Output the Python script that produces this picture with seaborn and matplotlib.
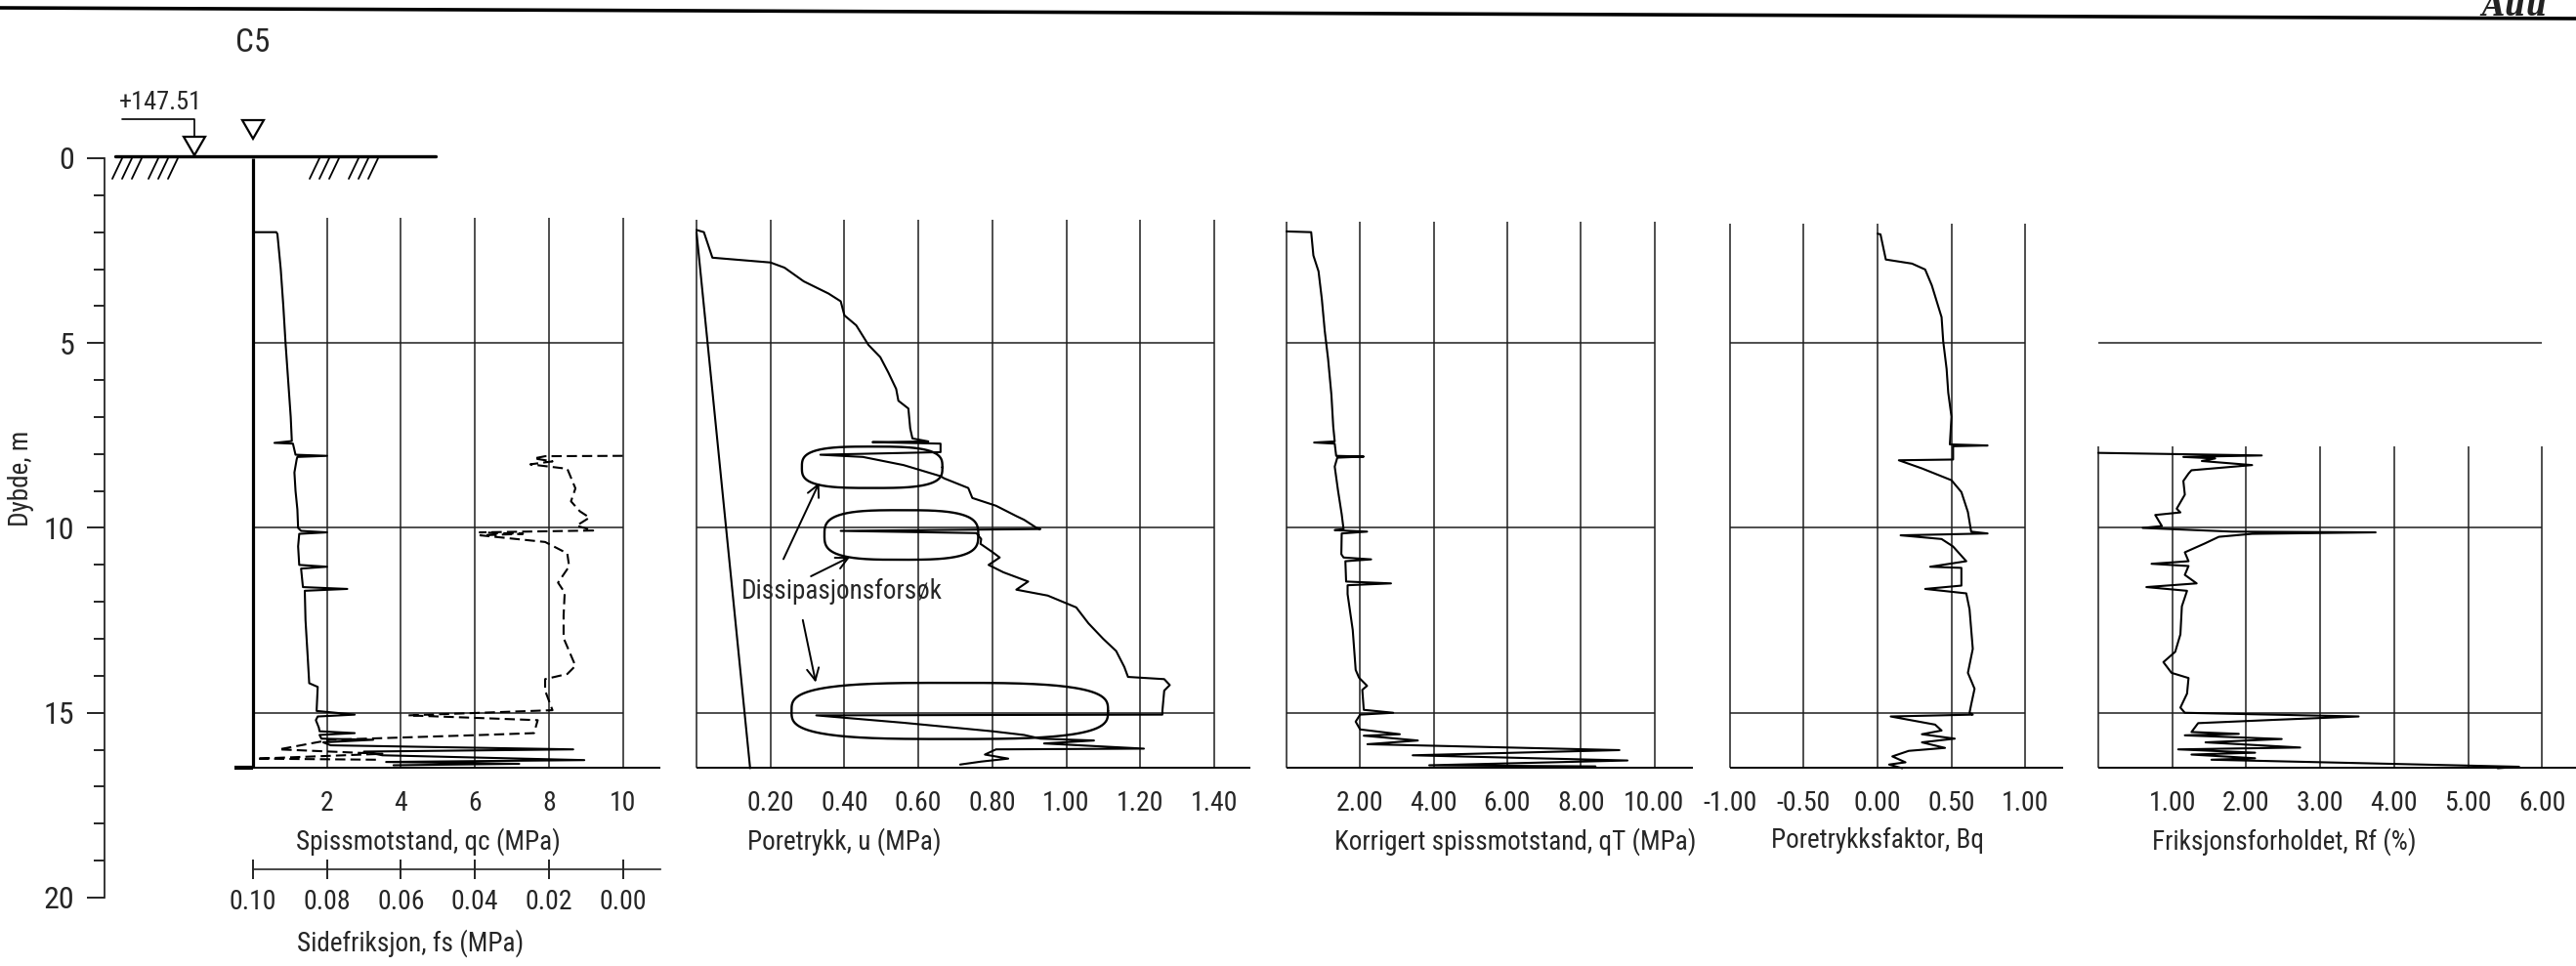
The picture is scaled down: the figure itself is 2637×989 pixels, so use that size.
import numpy as np
import matplotlib
matplotlib.use("Agg")
import matplotlib.pyplot as plt
import seaborn as sns
from matplotlib.patches import Polygon

sns.set_style("white")
plt.rcParams['font.family'] = ['Liberation Sans Narrow', 'Roboto Condensed', 'Open Sans Condensed', 'DejaVu Sans']
plt.rcParams['font.stretch'] = 'condensed'

# ---- data (depth in m) ----
qc_depth = [2.0, 2.0, 2.05, 3.0, 4.0, 5.0, 6.0, 7.0, 7.65, 7.7, 7.72, 8.02, 8.05, 8.08, 8.15, 8.5, 9.0,
            9.5, 10.0, 10.08, 10.12, 10.16, 10.5, 11.0, 11.05, 11.1, 11.6, 11.65, 11.7, 12.5, 13.5, 14.2,
            14.3, 14.95, 15.05, 15.1, 15.2, 15.4, 15.5, 15.55, 15.6, 15.7, 15.73, 15.8, 15.88, 15.99,
            16.05, 16.15, 16.28, 16.33, 16.38, 16.42]
qc_val = [0.0, 0.63, 0.66, 0.75, 0.82, 0.88, 0.95, 1.02, 1.05, 0.58, 1.08, 1.15, 2.0, 1.2, 1.18, 1.12, 1.15,
          1.2, 1.22, 1.3, 2.0, 1.25, 1.22, 1.25, 2.0, 1.3, 1.35, 2.55, 1.4, 1.42, 1.48, 1.52,
          1.75, 1.72, 2.75, 1.75, 1.7, 1.78, 1.8, 2.75, 1.8, 1.85, 3.25, 1.9, 2.1, 8.66,
          3.0, 3.5, 8.96, 3.6, 7.2, 3.8]

fs_depth = [8.05, 8.06, 8.12, 8.2, 8.28, 8.4, 8.93, 9.28, 9.55, 9.72, 9.94, 10.07, 10.12, 10.16, 10.2,
            10.38, 10.69, 11.04, 11.48, 11.75, 12.37, 12.98, 13.73, 13.95, 14.09, 14.4, 14.93, 15.07,
            15.2, 15.55, 15.6, 15.73, 15.99, 16.11, 16.24, 16.27]
fs_val = [0.0, 0.021, 0.024, 0.019, 0.025, 0.015, 0.0128, 0.014, 0.0116, 0.009, 0.0125, 0.008, 0.0387,
          0.027, 0.0385, 0.021, 0.015, 0.0145, 0.0175, 0.0157, 0.016, 0.016, 0.0128, 0.015, 0.021, 0.021,
          0.019, 0.058, 0.023, 0.024, 0.038, 0.079, 0.093, 0.065, 0.099, 0.066]

u_depth = [1.94, 2.0, 2.69, 2.82, 2.96, 3.33, 3.66, 3.87, 4.25, 4.52, 5.05, 5.38, 5.8, 6.24, 6.56, 6.77,
           7.31, 7.58, 7.66, 7.68, 7.72, 7.95, 8.02, 8.08, 8.3, 8.6, 8.66, 8.92, 9.19, 9.4, 9.68, 9.78,
           10.0, 10.03, 10.08, 10.14, 10.3, 10.43, 10.65, 10.8, 11.0, 11.2, 11.45, 11.67, 11.83, 12.15,
           12.58, 13.0, 13.33, 13.76, 14.03, 14.09, 14.25, 14.4, 14.95, 15.05, 15.07, 15.27, 15.5, 15.6,
           15.7, 15.75, 15.83, 15.97, 15.99, 16.13, 16.24, 16.32, 16.4]
u_val = [0.0, 0.02, 0.043, 0.2, 0.238, 0.29, 0.357, 0.39, 0.4, 0.432, 0.465, 0.497, 0.519, 0.54, 0.546, 0.573,
         0.578, 0.584, 0.627, 0.476, 0.66, 0.66, 0.335, 0.45, 0.56, 0.66, 0.67, 0.735, 0.746, 0.81, 0.865, 0.886,
         0.92, 0.93, 0.39, 0.757, 0.77, 0.768, 0.8, 0.82, 0.79, 0.83, 0.897, 0.865, 0.95, 1.027,
         1.06, 1.1, 1.135, 1.157, 1.167, 1.265, 1.28, 1.265, 1.26, 1.26, 0.324, 0.56, 0.8, 0.886,
         0.93, 1.075, 0.94, 1.21, 0.81, 0.78, 0.843, 0.77, 0.713]
u0_depth = [2.0, 16.5]
u0_val = [0.0, 0.145]

qt_depth = [1.98, 2.0, 2.63, 3.06, 3.81, 4.68, 5.43, 6.4, 7.26, 7.66, 7.69, 7.72, 8.05, 8.07, 8.1, 8.34, 8.99,
            9.63, 10.03, 10.06, 10.1, 10.15, 10.71, 10.8, 10.85, 10.9, 11.45, 11.5, 11.55, 11.79, 12.76, 13.84,
            14.05, 14.27, 14.38, 14.92, 15.0, 15.05, 15.24, 15.45, 15.58, 15.62, 15.75, 15.85, 16.01, 16.15,
            16.29, 16.42, 16.45]
qt_val = [0.0, 0.67, 0.73, 0.87, 0.96, 1.04, 1.13, 1.22, 1.27, 1.31, 0.75, 1.31, 1.35, 2.1, 1.38, 1.31, 1.4,
          1.5, 1.55, 1.31, 2.19, 1.5, 1.49, 1.55, 2.3, 1.6, 1.62, 2.84, 1.66, 1.66, 1.8, 1.88,
          1.97, 2.19, 2.06, 2.1, 2.9, 2.0, 1.88, 2.0, 3.08, 2.1, 3.57, 2.2, 9.05, 3.43,
          9.27, 3.88, 8.4]

bq_depth = [2.04, 2.06, 2.74, 2.85, 3.01, 3.44, 3.87, 4.3, 4.95, 5.7, 6.34, 6.99, 7.74, 7.77, 7.79, 8.15, 8.17,
            8.39, 8.71, 9.03, 9.57, 10.1, 10.15, 10.2, 10.3, 10.5, 10.9, 11.05, 11.08, 11.56, 11.65, 11.77,
            12.2, 13.27, 13.92, 14.35, 14.78, 15.0, 15.05, 15.1, 15.32, 15.48, 15.58, 15.7, 15.8, 15.95,
            16.03, 16.18, 16.34, 16.4, 16.5]
bq_val = [0.0, 0.02, 0.056, 0.233, 0.322, 0.367, 0.4, 0.433, 0.444, 0.467, 0.478, 0.5, 0.489, 0.744, 0.511,
          0.511, 0.144, 0.3, 0.5, 0.567, 0.611, 0.633, 0.744, 0.156, 0.433, 0.51, 0.6, 0.356, 0.567, 0.567,
          0.322, 0.6, 0.622, 0.644, 0.611, 0.656, 0.633, 0.622, 0.644, 0.089, 0.389, 0.433, 0.3, 0.522,
          0.3, 0.456, 0.211, 0.1, 0.189, 0.078, 0.167]

rf_depth = [7.97, 8.04, 8.08, 8.12, 8.19, 8.3, 8.44, 8.53, 8.73, 9.1, 9.48, 9.58, 9.65, 9.95, 10.0, 10.1,
            10.12, 10.16, 10.24, 10.42, 10.66, 10.9, 10.97, 11.03, 11.27, 11.5, 11.6, 11.7, 12.12, 12.88,
            13.35, 13.63, 13.92, 14.06, 14.48, 14.86, 15.0, 15.1, 15.19, 15.28, 15.52, 15.57, 15.61, 15.71,
            15.8, 15.94, 15.99, 16.08, 16.13, 16.23, 16.27, 16.46, 16.5]
rf_val = [0.0, 2.21, 1.15, 1.58, 1.4, 2.08, 1.26, 1.22, 1.15, 1.17, 1.06, 1.11, 0.77, 0.86, 0.6, 1.81,
          3.75, 2.08, 1.63, 1.44, 1.17, 1.22, 0.72, 1.22, 1.17, 1.33, 0.65, 1.2, 1.13, 1.11,
          1.04, 0.88, 0.99, 1.22, 1.2, 1.11, 1.17, 3.52, 2.39, 1.35, 1.26, 1.9, 1.17, 2.48,
          1.45, 2.73, 1.08, 2.12, 1.26, 2.12, 1.53, 5.69, 5.4]

qc_ticks = [2, 4, 6, 8, 10]
qc_labels = ["2", "4", "6", "8", "10"]
fs_ticks = [0.10, 0.08, 0.06, 0.04, 0.02, 0.00]
fs_labels = ["0.10", "0.08", "0.06", "0.04", "0.02", "0.00"]
u_ticks = [0.2, 0.4, 0.6, 0.8, 1.0, 1.2, 1.4]
u_labels = ["0.20", "0.40", "0.60", "0.80", "1.00", "1.20", "1.40"]
qt_ticks = [2, 4, 6, 8, 10]
qt_labels = ["2.00", "4.00", "6.00", "8.00", "10.00"]
bq_ticks = [-1.0, -0.5, 0.0, 0.5, 1.0]
bq_labels = ["-1.00", "-0.50", "0.00", "0.50", "1.00"]
rf_ticks = [1, 2, 3, 4, 5, 6]
rf_labels = ["1.00", "2.00", "3.00", "4.00", "5.00", "6.00"]
depth_ticks = [0, 5, 10, 15, 20]

# dissipation test boxes on the pore pressure panel: (u centre, depth centre, half width, half height)
diss_boxes = [(0.475, 8.36, 0.19, 0.56), (0.554, 10.19, 0.208, 0.67), (0.685, 14.95, 0.428, 0.76)]
diss_arrows = [((0.232, 10.91), (0.335, 8.71)), ((0.303, 11.34), (0.422, 10.75)),
               ((0.286, 12.42), (0.324, 14.25))]

# ---- layout (pixels) ----
W, H, DPI = 2637, 989, 100
Y0, PPM = 162, 37.85            # pixel row of depth 0 and pixels per metre
YLIM = ((H - Y0) / PPM, -Y0 / PPM)
BOT = 16.48
FS = 20
FL = 19.5
LW = 1.5
GRID = dict(color="#1e1e1e", lw=1.1)

fig = plt.figure(figsize=(W / DPI, H / DPI), dpi=DPI)
fig.patch.set_facecolor("white")

base = fig.add_axes([0, 0, 1, 1])
base.set_xlim(0, W)
base.set_ylim(H, 0)
base.axis("off")


def panel(x_zero, ppu, xmin, xmax):
    left = x_zero + xmin * ppu
    right = x_zero + xmax * ppu
    ax = fig.add_axes([left / W, 0, (right - left) / W, 1])
    ax.set_xlim(xmin, xmax)
    ax.set_ylim(YLIM)
    ax.patch.set_alpha(0)
    for s in ax.spines.values():
        s.set_visible(False)
    ax.set_yticks([])
    ax._px = (left, right)
    return ax


def style(ax, ticks, labels, xlabel, label_px, label_y=847):
    ax.spines["bottom"].set_position(("data", BOT))
    ax.set_xticks(ticks)
    ax.set_xticklabels(labels, fontsize=FS)
    ax.tick_params(axis="x", length=0, pad=17)
    ax.set_xlabel(xlabel, fontsize=FL)
    left, right = ax._px
    ax.xaxis.set_label_coords((label_px - left) / (right - left), 1 - label_y / H)


def frame(ax, verts, top, hmin, hmax, bmin, bmax):
    ax.vlines(verts, top, BOT, **GRID)
    ax.hlines([5, 10, 15], hmin, hmax, **GRID)
    ax.hlines(BOT, bmin, bmax, color="black", lw=1.4)


def prof(ax, x, y, **kw):
    sns.lineplot(x=x, y=y, sort=False, estimator=None, ax=ax, color="black", lw=LW, **kw)
    ax.set_xlabel("")
    ax.set_ylabel("")


# top border and corner text
base.plot([0, W], [8, 19], color="black", lw=2.6)
base.text(2540, 16, "Auu", fontsize=24, family="DejaVu Serif", style="italic", weight="bold",
          ha="left", va="baseline", color="#222")
base.text(259, 44, "C5", fontsize=24, ha="center", va="center")

# ground surface, hatching, water level marks
base.plot([118, 446], [160, 160], color="black", lw=2.4)
for x in [115, 125, 135, 152, 162, 172, 317, 327, 337, 357, 367, 377]:
    base.plot([x, x + 10], [183, 162], color="black", lw=1.3)
for cx, top in [(259, 123), (199, 140)]:
    base.add_patch(Polygon([(cx - 11, top), (cx + 11, top), (cx, top + 19)], closed=True,
                           fill=False, lw=1.6, ec="black"))
base.plot([125, 199, 199], [122, 122, 140], color="black", lw=1.2)
base.text(164, 105, "+147.51", fontsize=19, ha="center", va="center")

# depth axis
axd = fig.add_axes([107 / W, 0, 0.01, 1])
axd.set_ylim(YLIM)
axd.patch.set_alpha(0)
for k in ["top", "right", "bottom"]:
    axd.spines[k].set_visible(False)
axd.spines["left"].set_bounds(0, 20)
axd.spines["left"].set_linewidth(1.3)
axd.set_xticks([])
axd.set_yticks(depth_ticks)
axd.set_yticklabels([str(t) for t in depth_ticks], fontsize=23)
axd.set_yticks(range(1, 20), minor=True)
axd.tick_params(axis="y", which="both", left=True, direction="out", color="black")
axd.tick_params(axis="y", which="major", length=13, width=1.2, pad=9)
axd.tick_params(axis="y", which="minor", length=8, width=1.2)
axd.set_ylabel("Dybde, m", fontsize=FL)
axd.yaxis.set_label_coords(-72 / (0.01 * W), 1 - 490 / H)

# panel 1: qc and fs
ax1 = panel(259, 37.85, -0.6, 11.02)
frame(ax1, qc_ticks, 1.6, 0, 10, 0, 11.02)
ax1.vlines(0, 0, BOT, color="black", lw=2.3)
ax1.hlines(BOT, -0.5, 0, color="black", lw=3)
prof(ax1, qc_val, qc_depth)
style(ax1, qc_ticks, qc_labels, "Spissmotstand, qc (MPa)", 438)

axf = ax1.twiny()
axf.set_xlim(0.106, -0.0102)
axf.set_ylim(YLIM)
for s in axf.spines.values():
    s.set_visible(False)
axf.xaxis.set_ticks_position("bottom")
axf.xaxis.set_label_position("bottom")
axf.spines["bottom"].set_visible(True)
axf.spines["bottom"].set_position(("data", (890 - Y0) / PPM))
axf.spines["bottom"].set_bounds(-0.0102, 0.10)
axf.spines["bottom"].set_linewidth(1.2)
sns.lineplot(x=fs_val, y=fs_depth, sort=False, estimator=None, ax=axf, color="black",
             lw=LW, linestyle=(0, (5, 2.5)))
axf.set_ylabel("")
axf.set_xticks(fs_ticks)
axf.set_xticklabels(fs_labels, fontsize=FS)
axf.tick_params(axis="x", bottom=True, direction="inout", length=15, width=1.2, pad=7, color="black")
axf.set_xlabel("Sidefriksjon, fs (MPa)", fontsize=FL)
l1, r1 = ax1._px
axf.xaxis.set_label_coords((420 - l1) / (r1 - l1), 1 - 951 / H)

# panel 2: pore pressure
ax2 = panel(713, 378.5, -0.02, 1.498)
frame(ax2, [0] + u_ticks, 1.66, 0, 1.4, 0, 1.498)
prof(ax2, u0_val, u0_depth)
prof(ax2, u_val, u_depth)
style(ax2, u_ticks, u_labels, "Poretrykk, u (MPa)", 864)
t = np.linspace(0, 2 * np.pi, 200)
for cx, cy, a, b in diss_boxes:
    c, s = np.cos(t), np.sin(t)
    px = cx + a * np.sign(c) * np.abs(c) ** (2 / 3.2)
    py = cy + b * np.sign(s) * np.abs(s) ** (2 / 3.2)
    ax2.plot(px, py, color="black", lw=1.7)
for tail, head in diss_arrows:
    ax2.annotate("", xy=head, xytext=tail,
                 arrowprops=dict(arrowstyle="->", lw=1.4, color="black", mutation_scale=22))
ax2.text(0.394, 11.72, "Dissipasjonsforsøk", fontsize=FL, ha="center", va="center")

# panel 3: corrected cone resistance
ax3 = panel(1317, 37.65, -0.1, 11.05)
frame(ax3, [0] + qt_ticks, 1.72, 0, 10, 0, 11.05)
prof(ax3, qt_val, qt_depth)
style(ax3, qt_ticks, qt_labels, "Korrigert spissmotstand, qT (MPa)", 1551)

# panel 4: pore pressure ratio
ax4 = panel(1922, 151.4, -1.02, 1.255)
frame(ax4, bq_ticks, 1.77, -1, 1, -1, 1.255)
prof(ax4, bq_val, bq_depth)
style(ax4, bq_ticks, bq_labels, "Poretrykksfaktor, Bq", 1922)

# panel 5: friction ratio
ax5 = panel(2148, 75.7, -0.05, 6.46)
ax5.vlines([0] + rf_ticks, 7.8, BOT, **GRID)
ax5.hlines([5, 10, 15], 0, 6, **GRID)
ax5.hlines(BOT, 0, 6.46, color="black", lw=1.4)
prof(ax5, rf_val, rf_depth)
style(ax5, rf_ticks, rf_labels, "Friksjonsforholdet, Rf (%)", 2338)

fig.savefig("out.png", dpi=DPI, facecolor="white")
